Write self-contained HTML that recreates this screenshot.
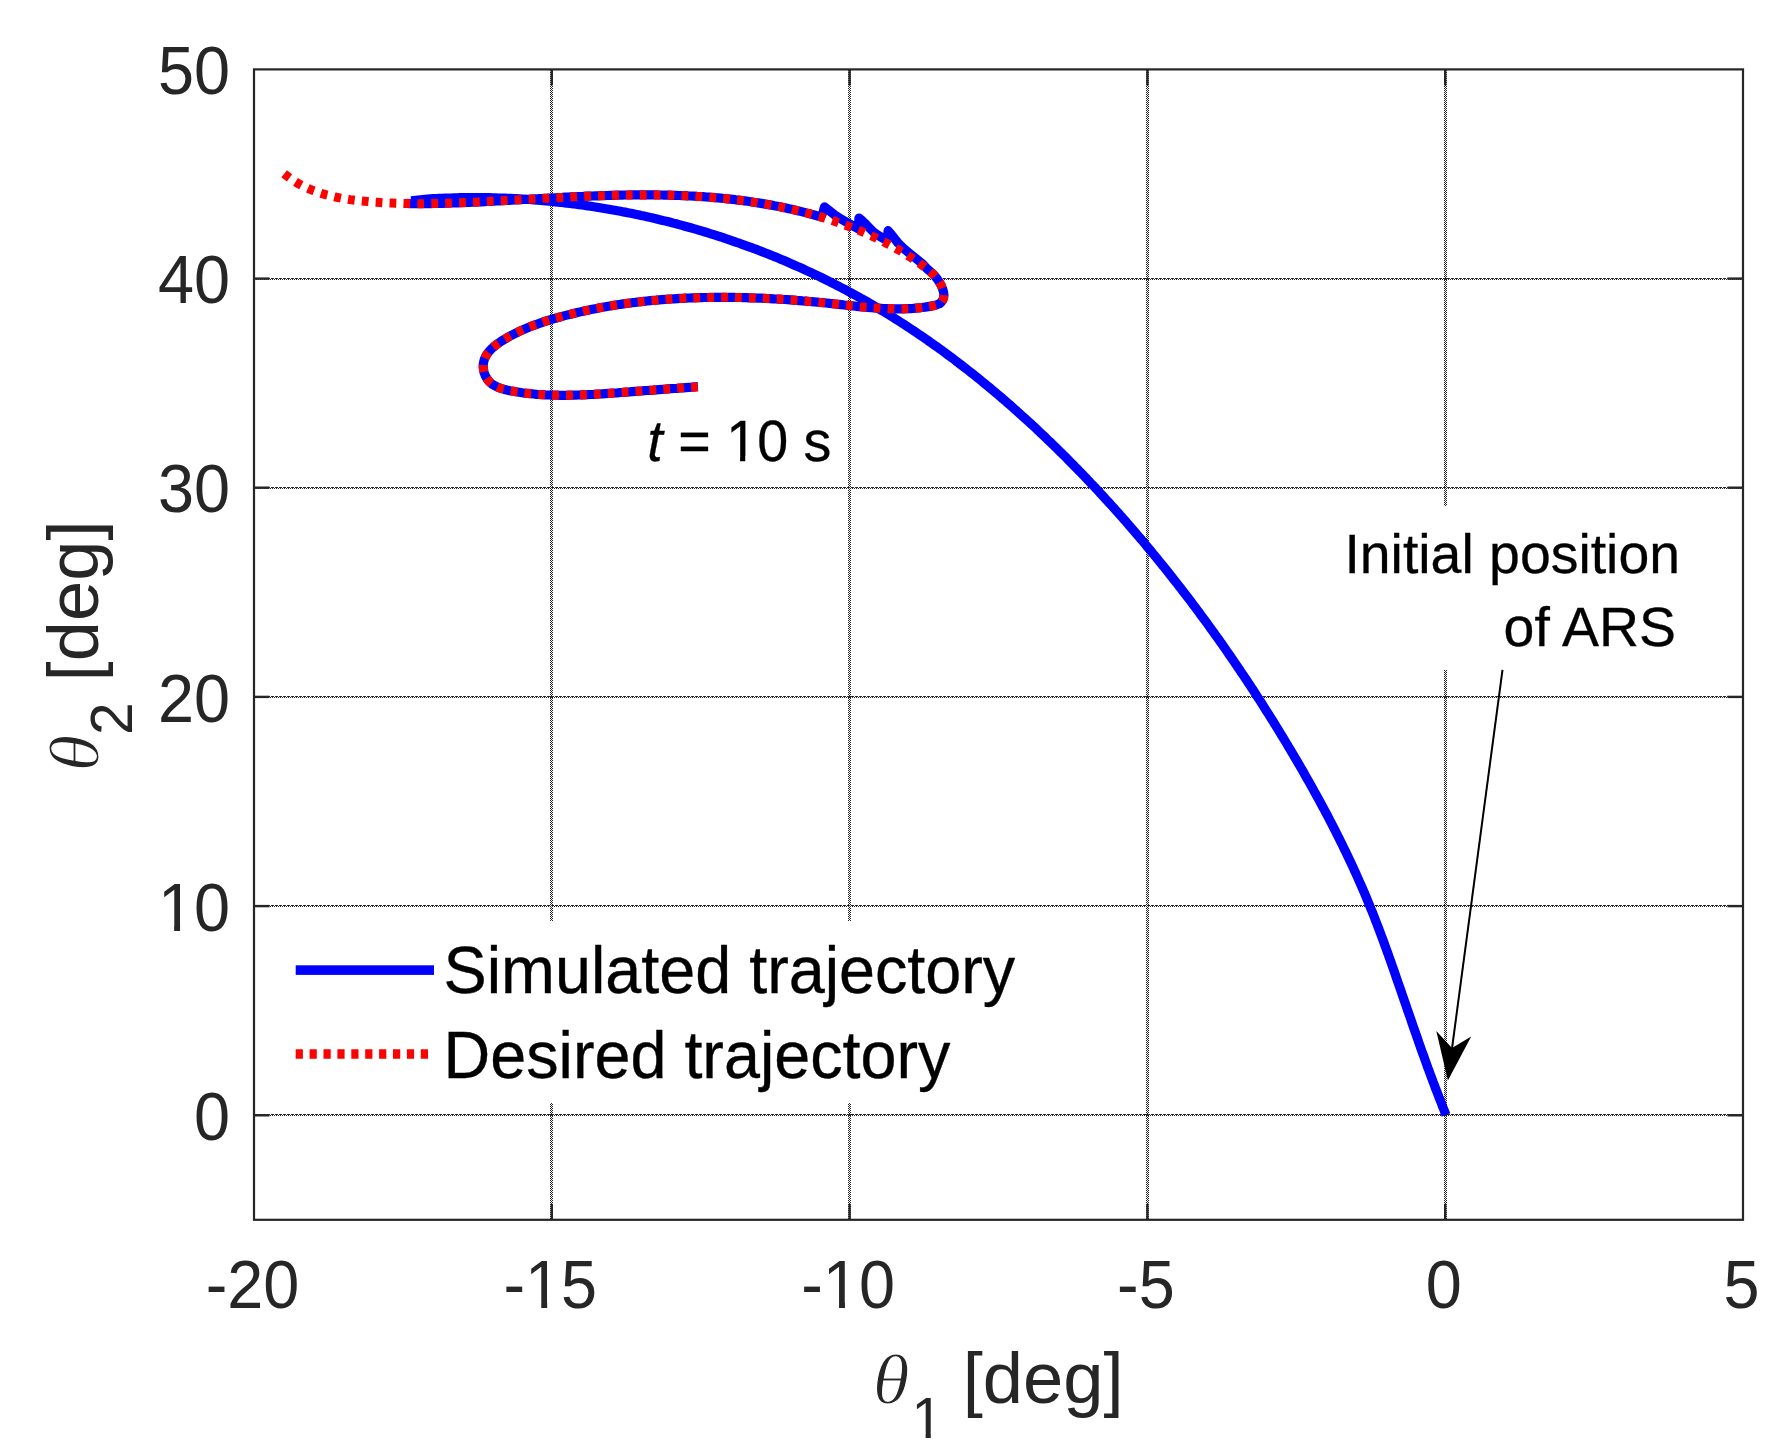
<!DOCTYPE html>
<html lang="en"><head><meta charset="utf-8"><title>Simulated and desired trajectory</title>
<style>
html,body{margin:0;padding:0;background:#fff;}
body{width:1788px;height:1456px;overflow:hidden;}
svg{display:block;}
text{font-family:"Liberation Sans",Arial,Helvetica,sans-serif;}
.tk{font-size:64.8px;fill:#262626;}
.lb{font-size:71.5px;fill:#262626;}
.sub{font-size:56.5px;fill:#262626;}
.th{font-family:"Liberation Serif","Times New Roman",serif;font-style:italic;font-size:70.4px;fill:#262626;stroke:#fff;stroke-width:1.1px;}
.lg{font-size:64.7px;fill:#000;stroke:#000;stroke-width:0.35px;}
.an{font-size:55.4px;fill:#000;stroke:#000;stroke-width:0.3px;}
.it{font-style:italic;}
</style></head><body>
<svg width="1788" height="1456" viewBox="0 0 1788 1456">
<defs><clipPath id="c0"><path clip-rule="evenodd" d="M-3000,-3000H3000V3000H-3000Z M-22.09,-5.74H-9.06V2.00H-22.09Z M-3.14,-5.74H9.55V2.00H-3.14Z"/></clipPath><clipPath id="c1"><path clip-rule="evenodd" d="M-3000,-3000H3000V3000H-3000Z M-22.09,-5.74H-9.06V2.00H-22.09Z M-3.14,-5.74H9.55V2.00H-3.14Z"/></clipPath><clipPath id="c2"><path clip-rule="evenodd" d="M-3000,-3000H3000V3000H-3000Z M-68.90,-5.74H-55.87V2.00H-68.90Z M-49.95,-5.74H-37.26V2.00H-49.95Z"/></clipPath><clipPath id="c3"><path clip-rule="evenodd" d="M-3000,-3000H3000V3000H-3000Z M2.76,-5.12H14.11V2.00H2.76Z M19.30,-5.12H30.35V2.00H19.30Z"/></clipPath><clipPath id="c4"><path clip-rule="evenodd" d="M-3000,-3000H3000V3000H-3000Z M81.22,-5.04H92.34V2.00H81.22Z M97.44,-5.04H108.27V2.00H97.44Z"/></clipPath></defs>
<rect width="1788" height="1456" fill="#fff"/>

<g stroke="#262626" stroke-width="1" shape-rendering="crispEdges" fill="none">
<line x1="550.5" y1="70" x2="550.5" y2="921" stroke-dasharray="1 1" stroke-dashoffset="0"/>
<line x1="551.5" y1="70" x2="551.5" y2="921" stroke-dasharray="1 1" stroke-dashoffset="1"/>
<line x1="552.5" y1="70" x2="552.5" y2="921" stroke-dasharray="1 1" stroke-dashoffset="0"/>
<line x1="550.5" y1="1103" x2="550.5" y2="1219" stroke-dasharray="1 1" stroke-dashoffset="1"/>
<line x1="551.5" y1="1103" x2="551.5" y2="1219" stroke-dasharray="1 1" stroke-dashoffset="0"/>
<line x1="552.5" y1="1103" x2="552.5" y2="1219" stroke-dasharray="1 1" stroke-dashoffset="1"/>
<line x1="848.5" y1="70" x2="848.5" y2="921" stroke-dasharray="1 1" stroke-dashoffset="0"/>
<line x1="849.5" y1="70" x2="849.5" y2="921" stroke-dasharray="1 1" stroke-dashoffset="1"/>
<line x1="850.5" y1="70" x2="850.5" y2="921" stroke-dasharray="1 1" stroke-dashoffset="0"/>
<line x1="848.5" y1="1103" x2="848.5" y2="1219" stroke-dasharray="1 1" stroke-dashoffset="1"/>
<line x1="849.5" y1="1103" x2="849.5" y2="1219" stroke-dasharray="1 1" stroke-dashoffset="0"/>
<line x1="850.5" y1="1103" x2="850.5" y2="1219" stroke-dasharray="1 1" stroke-dashoffset="1"/>
<line x1="1146.5" y1="70" x2="1146.5" y2="1219" stroke-dasharray="1 1" stroke-dashoffset="0"/>
<line x1="1147.5" y1="70" x2="1147.5" y2="1219" stroke-dasharray="1 1" stroke-dashoffset="1"/>
<line x1="1148.5" y1="70" x2="1148.5" y2="1219" stroke-dasharray="1 1" stroke-dashoffset="0"/>
<line x1="1444.5" y1="70" x2="1444.5" y2="506" stroke-dasharray="1 1" stroke-dashoffset="0"/>
<line x1="1445.5" y1="70" x2="1445.5" y2="506" stroke-dasharray="1 1" stroke-dashoffset="1"/>
<line x1="1446.5" y1="70" x2="1446.5" y2="506" stroke-dasharray="1 1" stroke-dashoffset="0"/>
<line x1="1444.5" y1="670" x2="1444.5" y2="1219" stroke-dasharray="1 1" stroke-dashoffset="0"/>
<line x1="1445.5" y1="670" x2="1445.5" y2="1219" stroke-dasharray="1 1" stroke-dashoffset="1"/>
<line x1="1446.5" y1="670" x2="1446.5" y2="1219" stroke-dasharray="1 1" stroke-dashoffset="0"/>
<line x1="255" y1="1114.5" x2="1742" y2="1114.5" stroke-dasharray="3 1"/>
<line x1="255" y1="1115.5" x2="1742" y2="1115.5" stroke-dasharray="1 1" stroke-dashoffset="1"/>
<line x1="255" y1="905.5" x2="1742" y2="905.5" stroke-dasharray="3 1"/>
<line x1="255" y1="906.5" x2="1742" y2="906.5" stroke-dasharray="1 1" stroke-dashoffset="1"/>
<line x1="255" y1="696.5" x2="1742" y2="696.5" stroke-dasharray="3 1"/>
<line x1="255" y1="697.5" x2="1742" y2="697.5" stroke-dasharray="1 1" stroke-dashoffset="1"/>
<line x1="255" y1="487.5" x2="1742" y2="487.5" stroke-dasharray="3 1"/>
<line x1="255" y1="488.5" x2="1742" y2="488.5" stroke-dasharray="1 1" stroke-dashoffset="1"/>
<line x1="255" y1="278.5" x2="1742" y2="278.5" stroke-dasharray="3 1"/>
<line x1="255" y1="279.5" x2="1742" y2="279.5" stroke-dasharray="1 1" stroke-dashoffset="1"/>
</g>
<g stroke="#262626" stroke-width="2.4">
<line x1="551.8" y1="1219.85" x2="551.8" y2="1203.8"/><line x1="551.8" y1="69.4" x2="551.8" y2="85.4"/>
<line x1="849.6" y1="1219.85" x2="849.6" y2="1203.8"/><line x1="849.6" y1="69.4" x2="849.6" y2="85.4"/>
<line x1="1147.4" y1="1219.85" x2="1147.4" y2="1203.8"/><line x1="1147.4" y1="69.4" x2="1147.4" y2="85.4"/>
<line x1="1445.2" y1="1219.85" x2="1445.2" y2="1203.8"/><line x1="1445.2" y1="69.4" x2="1445.2" y2="85.4"/>
<line x1="254.0" y1="1115.3" x2="269.5" y2="1115.3"/><line x1="1743.0" y1="1115.3" x2="1727.5" y2="1115.3"/>
<line x1="254.0" y1="906.1" x2="269.5" y2="906.1"/><line x1="1743.0" y1="906.1" x2="1727.5" y2="906.1"/>
<line x1="254.0" y1="696.9" x2="269.5" y2="696.9"/><line x1="1743.0" y1="696.9" x2="1727.5" y2="696.9"/>
<line x1="254.0" y1="487.7" x2="269.5" y2="487.7"/><line x1="1743.0" y1="487.7" x2="1727.5" y2="487.7"/>
<line x1="254.0" y1="278.6" x2="269.5" y2="278.6"/><line x1="1743.0" y1="278.6" x2="1727.5" y2="278.6"/>
</g>
<path d="M1446.0,1115.0 L1444.9,1112.2 L1443.8,1109.4 L1442.7,1106.7 L1441.6,1103.9 L1440.5,1101.1 L1439.4,1098.3 L1438.3,1095.6 L1437.3,1092.8 L1436.2,1090.0 L1435.1,1087.2 L1434.1,1084.4 L1433.0,1081.6 L1432.0,1078.8 L1430.9,1076.0 L1429.9,1073.2 L1428.9,1070.4 L1427.8,1067.6 L1426.8,1064.8 L1425.8,1062.0 L1424.8,1059.2 L1423.8,1056.3 L1422.7,1053.5 L1421.7,1050.7 L1420.7,1047.9 L1419.7,1045.0 L1418.7,1042.2 L1417.8,1039.4 L1416.8,1036.6 L1415.8,1033.7 L1414.8,1030.9 L1413.8,1028.1 L1412.8,1025.2 L1411.8,1022.4 L1410.9,1019.6 L1409.9,1016.7 L1408.9,1013.9 L1407.9,1011.1 L1406.9,1008.2 L1406.0,1005.4 L1405.0,1002.6 L1404.0,999.7 L1403.0,996.9 L1402.0,994.0 L1401.1,991.2 L1400.1,988.4 L1399.1,985.5 L1398.1,982.7 L1397.1,979.9 L1396.1,977.0 L1395.2,974.2 L1394.2,971.4 L1393.2,968.5 L1392.2,965.7 L1391.2,962.9 L1390.2,960.0 L1389.2,957.2 L1388.2,954.4 L1387.2,951.6 L1386.1,948.7 L1385.1,945.9 L1384.1,943.1 L1383.1,940.3 L1382.0,937.5 L1381.0,934.7 L1379.9,931.9 L1378.9,929.0 L1377.8,926.2 L1376.7,923.4 L1375.6,920.7 L1374.6,917.9 L1373.5,915.1 L1372.4,912.3 L1371.2,909.5 L1370.1,906.7 L1369.0,904.0 L1367.9,901.2 L1366.7,898.4 L1365.6,895.7 L1364.4,892.9 L1363.2,890.2 L1362.0,887.4 L1360.8,884.7 L1359.6,882.0 L1358.4,879.2 L1357.2,876.5 L1356.0,873.8 L1354.7,871.1 L1353.5,868.3 L1352.2,865.6 L1351.0,862.9 L1349.7,860.2 L1348.4,857.5 L1347.1,854.8 L1345.8,852.1 L1344.5,849.4 L1343.2,846.8 L1341.9,844.1 L1340.6,841.4 L1339.3,838.7 L1337.9,836.1 L1336.6,833.4 L1335.2,830.7 L1333.9,828.1 L1332.5,825.4 L1331.1,822.7 L1329.7,820.1 L1328.4,817.4 L1327.0,814.8 L1325.6,812.2 L1324.2,809.5 L1322.7,806.9 L1321.3,804.3 L1319.9,801.6 L1318.5,799.0 L1317.0,796.4 L1315.6,793.8 L1314.1,791.2 L1312.7,788.5 L1311.2,785.9 L1309.8,783.3 L1308.3,780.7 L1306.8,778.1 L1305.3,775.5 L1303.9,772.9 L1302.4,770.3 L1300.9,767.7 L1299.4,765.2 L1297.9,762.6 L1296.4,760.0 L1294.8,757.4 L1293.3,754.8 L1291.8,752.2 L1290.3,749.7 L1288.7,747.1 L1287.2,744.5 L1285.7,742.0 L1284.1,739.4 L1282.6,736.9 L1281.0,734.3 L1279.4,731.7 L1277.9,729.2 L1276.3,726.6 L1274.7,724.1 L1273.2,721.5 L1271.6,719.0 L1270.0,716.5 L1268.4,713.9 L1266.8,711.4 L1265.2,708.9 L1263.6,706.3 L1262.0,703.8 L1260.4,701.3 L1258.8,698.8 L1257.1,696.3 L1255.5,693.7 L1253.9,691.2 L1252.2,688.7 L1250.6,686.2 L1248.9,683.7 L1247.3,681.2 L1245.6,678.7 L1244.0,676.2 L1242.3,673.8 L1240.6,671.3 L1239.0,668.8 L1237.3,666.3 L1235.6,663.8 L1233.9,661.4 L1232.2,658.9 L1230.5,656.4 L1228.8,654.0 L1227.1,651.5 L1225.4,649.0 L1223.7,646.6 L1222.0,644.1 L1220.2,641.7 L1218.5,639.2 L1216.8,636.8 L1215.0,634.4 L1213.3,631.9 L1211.5,629.5 L1209.8,627.1 L1208.0,624.6 L1206.3,622.2 L1204.5,619.8 L1202.7,617.4 L1200.9,615.0 L1199.2,612.6 L1197.4,610.2 L1195.6,607.8 L1193.8,605.4 L1192.0,603.0 L1190.2,600.6 L1188.4,598.2 L1186.5,595.8 L1184.7,593.4 L1182.9,591.1 L1181.1,588.7 L1179.2,586.3 L1177.4,584.0 L1175.5,581.6 L1173.7,579.3 L1171.8,576.9 L1170.0,574.6 L1168.1,572.2 L1166.3,569.9 L1164.4,567.5 L1162.5,565.2 L1160.6,562.9 L1158.7,560.6 L1156.8,558.2 L1154.9,555.9 L1153.0,553.6 L1151.1,551.3 L1149.2,549.0 L1147.3,546.7 L1145.4,544.4 L1143.5,542.1 L1141.5,539.8 L1139.6,537.5 L1137.6,535.2 L1135.7,533.0 L1133.8,530.7 L1131.8,528.4 L1129.8,526.2 L1127.9,523.9 L1125.9,521.6 L1123.9,519.4 L1121.9,517.1 L1120.0,514.9 L1118.0,512.7 L1116.0,510.4 L1114.0,508.2 L1112.0,506.0 L1110.0,503.7 L1107.9,501.5 L1105.9,499.3 L1103.9,497.1 L1101.9,494.9 L1099.8,492.7 L1097.8,490.5 L1095.8,488.3 L1093.7,486.1 L1091.6,484.0 L1089.6,481.8 L1087.5,479.6 L1085.5,477.4 L1083.4,475.3 L1081.3,473.1 L1079.2,471.0 L1077.1,468.8 L1075.0,466.7 L1072.9,464.5 L1070.8,462.4 L1068.7,460.3 L1066.6,458.1 L1064.5,456.0 L1062.4,453.9 L1060.2,451.8 L1058.1,449.7 L1056.0,447.6 L1053.8,445.5 L1051.7,443.4 L1049.5,441.3 L1047.3,439.3 L1045.2,437.2 L1043.0,435.1 L1040.8,433.1 L1038.6,431.0 L1036.5,428.9 L1034.3,426.9 L1032.1,424.9 L1029.9,422.8 L1027.7,420.8 L1025.4,418.8 L1023.2,416.8 L1021.0,414.8 L1018.8,412.8 L1016.5,410.8 L1014.3,408.8 L1012.1,406.8 L1009.8,404.8 L1007.6,402.9 L1005.3,400.9 L1003.0,399.0 L1000.8,397.0 L998.5,395.1 L996.2,393.1 L993.9,391.2 L991.6,389.3 L989.3,387.4 L987.0,385.5 L984.7,383.6 L982.4,381.7 L980.1,379.8 L977.7,377.9 L975.4,376.0 L973.1,374.2 L970.7,372.3 L968.4,370.5 L966.0,368.6 L963.7,366.8 L961.3,365.0 L958.9,363.2 L956.5,361.3 L954.2,359.5 L951.8,357.7 L949.4,356.0 L947.0,354.2 L944.6,352.4 L942.2,350.6 L939.8,348.9 L937.3,347.1 L934.9,345.4 L932.5,343.7 L930.0,342.0 L927.6,340.2 L925.1,338.5 L922.7,336.8 L920.2,335.2 L917.7,333.5 L915.3,331.8 L912.8,330.2 L910.3,328.5 L907.8,326.9 L905.3,325.2 L902.8,323.6 L900.3,322.0 L897.8,320.4 L895.3,318.8 L892.7,317.2 L890.2,315.6 L887.7,314.0 L885.1,312.5 L882.6,310.9 L880.0,309.4 L877.5,307.9 L874.9,306.3 L872.3,304.8 L869.7,303.3 L867.2,301.8 L864.6,300.3 L862.0,298.9 L859.4,297.4 L856.8,296.0 L854.1,294.5 L851.5,293.1 L848.9,291.7 L846.3,290.2 L843.6,288.8 L841.0,287.5 L838.3,286.1 L835.7,284.7 L833.0,283.3 L830.3,282.0 L827.6,280.6 L825.0,279.3 L822.3,278.0 L819.6,276.7 L816.9,275.4 L814.2,274.1 L811.5,272.8 L808.8,271.6 L806.0,270.3 L803.3,269.0 L800.6,267.8 L797.9,266.6 L795.1,265.4 L792.4,264.2 L789.6,263.0 L786.9,261.8 L784.1,260.6 L781.3,259.4 L778.6,258.3 L775.8,257.1 L773.0,256.0 L770.2,254.9 L767.5,253.8 L764.7,252.7 L761.9,251.6 L759.1,250.5 L756.3,249.4 L753.4,248.4 L750.6,247.3 L747.8,246.3 L745.0,245.3 L742.2,244.3 L739.3,243.2 L736.5,242.3 L733.7,241.3 L730.8,240.3 L728.0,239.3 L725.1,238.4 L722.3,237.4 L719.4,236.5 L716.6,235.6 L713.7,234.7 L710.8,233.8 L708.0,232.9 L705.1,232.0 L702.2,231.1 L699.3,230.3 L696.4,229.4 L693.6,228.6 L690.7,227.8 L687.8,227.0 L684.9,226.2 L682.0,225.4 L679.1,224.6 L676.2,223.8 L673.3,223.1 L670.4,222.3 L667.4,221.6 L664.5,220.9 L661.6,220.2 L658.7,219.5 L655.8,218.8 L652.8,218.1 L649.9,217.4 L647.0,216.7 L644.0,216.1 L641.1,215.5 L638.2,214.8 L635.2,214.2 L632.3,213.6 L629.3,213.0 L626.4,212.4 L623.5,211.9 L620.5,211.3 L617.6,210.8 L614.6,210.2 L611.6,209.7 L608.7,209.2 L605.7,208.7 L602.8,208.2 L599.8,207.7 L596.9,207.2 L593.9,206.8 L590.9,206.3 L588.0,205.9 L585.0,205.4 L582.0,205.0 L579.1,204.6 L576.1,204.2 L573.1,203.8 L570.1,203.5 L567.2,203.1 L564.2,202.8 L561.2,202.4 L558.2,202.1 L555.3,201.8 L552.3,201.5 L549.3,201.2 L546.3,200.9 L543.4,200.6 L540.4,200.4 L537.4,200.1 L534.4,199.9 L531.4,199.7 L528.5,199.5 L525.5,199.3 L522.5,199.1 L519.5,198.9 L516.5,198.7 L513.6,198.6 L510.6,198.4 L507.6,198.3 L504.6,198.2 L501.6,198.1 L498.7,198.0 L495.7,197.9 L492.7,197.8 L489.7,197.7 L486.7,197.7 L483.8,197.7 L480.8,197.6 L477.8,197.6 L474.8,197.6 L471.9,197.6 L468.9,197.6 L465.9,197.7 L462.9,197.7 L460.0,197.7 L457.0,197.8 L454.0,197.9 L451.1,198.0 L448.1,198.1 L445.1,198.2 L442.2,198.3 L439.2,198.4 L436.3,198.6 L433.3,198.7 L430.3,198.9 L427.4,199.1 L418.0,200.0 L411.2,200.9" fill="none" stroke="#0000ff" stroke-width="9.2" stroke-linejoin="round" stroke-linecap="butt"/>
<path d="M407.0,203.4 L409.9,203.6 L412.9,203.6 L415.9,203.7 L418.9,203.7 L421.9,203.7 L424.9,203.6 L427.9,203.6 L430.9,203.6 L433.9,203.5 L436.9,203.5 L439.9,203.4 L442.9,203.3 L445.9,203.2 L448.8,203.1 L451.8,203.0 L454.8,202.9 L457.8,202.8 L460.8,202.7 L463.8,202.6 L466.8,202.5 L469.8,202.3 L472.8,202.2 L475.7,202.1 L478.7,201.9 L481.7,201.8 L484.7,201.6 L487.7,201.5 L490.7,201.3 L493.7,201.2 L496.7,201.0 L499.6,200.8 L502.6,200.7 L505.6,200.5 L508.6,200.3 L511.6,200.2 L514.6,200.0 L517.6,199.8 L520.5,199.7 L523.5,199.5 L526.5,199.3 L529.5,199.2 L532.5,199.0 L535.5,198.8 L538.5,198.7 L541.4,198.5 L544.4,198.3 L547.4,198.2 L550.4,198.0 L553.4,197.8 L556.4,197.7 L559.4,197.5 L562.4,197.4 L565.3,197.2 L568.3,197.1 L571.3,196.9 L574.3,196.8 L577.3,196.6 L580.3,196.5 L583.3,196.4 L586.3,196.2 L589.3,196.1 L592.2,196.0 L595.2,195.9 L598.2,195.8 L601.2,195.7 L604.2,195.6 L607.2,195.5 L610.2,195.4 L613.2,195.3 L616.2,195.2 L619.2,195.2 L622.2,195.1 L625.2,195.0 L628.2,195.0 L631.1,194.9 L634.1,194.9 L637.1,194.9 L640.1,194.9 L643.1,194.9 L646.1,194.9 L649.1,194.9 L652.1,194.9 L655.1,194.9 L658.1,195.0 L661.1,195.0 L664.1,195.1 L667.1,195.1 L670.1,195.2 L673.1,195.3 L676.1,195.4 L679.1,195.5 L682.1,195.6 L685.1,195.7 L688.1,195.9 L691.1,196.0 L694.1,196.2 L697.1,196.4 L700.1,196.5 L703.1,196.7 L706.1,197.0 L709.1,197.2 L712.1,197.4 L715.1,197.7 L718.0,197.9 L721.0,198.2 L724.0,198.5 L727.0,198.8 L730.0,199.1 L732.9,199.4 L735.9,199.8 L738.9,200.1 L741.8,200.5 L744.8,200.9 L747.8,201.3 L750.7,201.7 L753.7,202.2 L756.6,202.6 L759.6,203.1 L762.5,203.6 L765.5,204.1 L768.4,204.6 L771.4,205.1 L774.3,205.7 L777.2,206.2 L780.2,206.8 L783.1,207.4 L786.0,208.0 L788.9,208.7 L791.8,209.3 L794.7,210.0 L797.6,210.7 L800.5,211.4 L803.4,212.1 L806.3,212.9 L809.2,213.6 L812.1,214.4 L815.0,215.2 L817.8,216.1 L820.7,216.9 L823.2,212.0 L824.5,206.9 L828.0,209.6 L834.9,215.1 L841.5,219.3 L848.0,223.0 L853.0,226.0 L857.6,228.4 L858.5,224.0 L859.0,218.0 L862.0,220.6 L866.0,224.4 L873.8,232.4 L878.0,235.3 L882.2,237.8 L886.6,240.4 L887.7,236.0 L888.1,230.7 L891.0,234.0 L898.3,243.3 L904.0,248.8 L910.0,253.7 L916.0,258.5 L921.8,263.2 L926.5,268.2 L930.1,271.4 L932.3,273.4 L934.4,275.6 L936.4,277.9 L938.2,280.4 L939.9,283.0 L941.4,285.9 L942.6,288.9 L943.5,292.0 L943.9,294.9 L943.6,297.7 L942.7,300.2 L941.3,302.2 L939.3,303.8 L936.7,304.8 L933.9,305.6 L931.0,306.1 L928.0,306.6 L925.1,307.1 L922.1,307.5 L919.2,307.8 L916.2,308.1 L913.2,308.4 L910.3,308.6 L907.3,308.7 L904.3,308.8 L901.3,308.9 L898.3,308.9 L895.3,308.9 L892.3,308.8 L889.4,308.8 L886.4,308.6 L883.4,308.5 L880.4,308.3 L877.4,308.1 L874.4,307.9 L871.4,307.7 L868.3,307.4 L865.3,307.2 L862.3,306.9 L859.3,306.6 L856.3,306.3 L853.3,305.9 L850.3,305.6 L847.3,305.3 L844.3,305.0 L841.3,304.6 L838.3,304.3 L835.3,304.0 L832.4,303.7 L829.4,303.4 L826.4,303.0 L823.4,302.7 L820.4,302.5 L817.4,302.2 L814.4,301.9 L811.5,301.6 L808.5,301.4 L805.5,301.1 L802.5,300.9 L799.6,300.6 L796.6,300.4 L793.6,300.1 L790.6,299.9 L787.7,299.7 L784.7,299.5 L781.7,299.3 L778.8,299.1 L775.8,299.0 L772.8,298.8 L769.8,298.6 L766.9,298.5 L763.9,298.3 L760.9,298.2 L757.9,298.1 L755.0,298.0 L752.0,297.9 L749.0,297.8 L746.0,297.7 L743.0,297.6 L740.1,297.5 L737.1,297.5 L734.1,297.4 L731.1,297.4 L728.1,297.4 L725.1,297.3 L722.1,297.3 L719.1,297.3 L716.1,297.4 L713.1,297.4 L710.1,297.4 L707.1,297.5 L704.1,297.5 L701.1,297.6 L698.1,297.7 L695.1,297.8 L692.1,297.9 L689.1,298.0 L686.1,298.1 L683.1,298.3 L680.1,298.4 L677.1,298.6 L674.1,298.8 L671.1,299.0 L668.1,299.2 L665.1,299.4 L662.1,299.6 L659.1,299.9 L656.1,300.2 L653.1,300.4 L650.1,300.7 L647.1,301.0 L644.1,301.3 L641.1,301.7 L638.2,302.0 L635.2,302.4 L632.2,302.7 L629.2,303.1 L626.3,303.5 L623.3,303.9 L620.3,304.4 L617.4,304.8 L614.4,305.3 L611.5,305.8 L608.5,306.3 L605.6,306.8 L602.6,307.3 L599.7,307.8 L596.8,308.4 L593.9,309.0 L590.9,309.6 L588.0,310.2 L585.1,310.8 L582.2,311.4 L579.3,312.1 L576.4,312.8 L573.5,313.5 L570.7,314.2 L567.8,314.9 L564.9,315.6 L562.1,316.4 L559.2,317.2 L556.4,318.0 L553.5,318.8 L550.7,319.6 L547.8,320.5 L545.0,321.4 L542.2,322.3 L539.4,323.3 L536.6,324.3 L533.8,325.3 L531.0,326.4 L528.2,327.5 L525.4,328.7 L522.6,329.9 L519.8,331.2 L517.1,332.5 L514.3,333.9 L511.5,335.3 L508.8,336.8 L506.0,338.4 L503.3,340.0 L500.6,341.7 L498.0,343.5 L495.5,345.4 L493.1,347.4 L490.9,349.4 L489.0,351.6 L487.2,353.8 L485.8,356.2 L484.6,358.7 L483.8,361.3 L483.3,364.0 L483.2,366.8 L483.5,369.7 L484.1,372.5 L485.1,375.3 L486.5,377.9 L488.1,380.3 L490.1,382.5 L492.4,384.3 L495.0,385.9 L497.7,387.2 L500.6,388.3 L503.7,389.2 L506.8,390.0 L509.9,390.7 L513.1,391.2 L516.1,391.8 L519.1,392.2 L522.1,392.7 L525.0,393.1 L527.9,393.4 L530.8,393.7 L533.8,394.0 L536.7,394.3 L539.6,394.5 L542.6,394.7 L545.5,394.9 L548.5,395.0 L551.5,395.1 L554.4,395.2 L557.4,395.2 L560.4,395.3 L563.4,395.3 L566.4,395.3 L569.3,395.2 L572.3,395.2 L575.3,395.1 L578.3,395.0 L581.3,394.9 L584.3,394.8 L587.3,394.7 L590.3,394.5 L593.4,394.4 L596.4,394.2 L599.4,394.0 L602.4,393.8 L605.4,393.6 L608.4,393.4 L611.4,393.2 L614.4,393.0 L617.4,392.8 L620.4,392.5 L623.4,392.3 L626.3,392.1 L629.3,391.9 L632.3,391.6 L635.3,391.4 L638.3,391.2 L641.2,391.0 L644.2,390.7 L647.2,390.5 L650.2,390.3 L653.1,390.1 L656.1,389.8 L659.1,389.6 L662.0,389.4 L665.0,389.2 L668.0,388.9 L671.0,388.7 L674.0,388.5 L676.9,388.3 L679.9,388.0 L682.9,387.8 L685.9,387.6 L688.9,387.4 L691.9,387.2 L694.9,386.9 L697.9,386.7" fill="none" stroke="#0000ff" stroke-width="9.2" stroke-linejoin="round" stroke-linecap="butt"/>
<path d="M284.2,173.8 L286.6,175.7 L289.0,177.5 L291.5,179.3 L294.0,180.9 L296.5,182.5 L299.1,184.0 L301.7,185.4 L304.4,186.7 L307.1,188.0 L309.8,189.2 L312.5,190.3 L315.3,191.3 L318.1,192.3 L320.9,193.2 L323.7,194.1 L326.6,194.9 L329.5,195.6 L332.4,196.3 L335.3,197.0 L338.2,197.6 L341.2,198.2 L344.1,198.7 L347.1,199.1 L350.1,199.6 L353.0,200.0 L356.0,200.4 L359.0,200.7 L362.0,201.0 L365.0,201.3 L368.0,201.6 L371.0,201.9 L374.0,202.1 L377.0,202.3 L380.0,202.5 L383.0,202.7 L386.0,202.9 L389.0,203.0 L392.0,203.1 L395.0,203.3 L398.0,203.4 L401.0,203.4 L404.0,203.5 L407.0,203.6 L409.9,203.6 L412.9,203.6 L415.9,203.7 L418.9,203.7 L421.9,203.7 L424.9,203.6 L427.9,203.6 L430.9,203.6 L433.9,203.5 L436.9,203.5 L439.9,203.4 L442.9,203.3 L445.9,203.2 L448.8,203.1 L451.8,203.0 L454.8,202.9 L457.8,202.8 L460.8,202.7 L463.8,202.6 L466.8,202.5 L469.8,202.3 L472.8,202.2 L475.7,202.1 L478.7,201.9 L481.7,201.8 L484.7,201.6 L487.7,201.5 L490.7,201.3 L493.7,201.2 L496.7,201.0 L499.6,200.8 L502.6,200.7 L505.6,200.5 L508.6,200.3 L511.6,200.2 L514.6,200.0 L517.6,199.8 L520.5,199.7 L523.5,199.5 L526.5,199.3 L529.5,199.2 L532.5,199.0 L535.5,198.8 L538.5,198.7 L541.4,198.5 L544.4,198.3 L547.4,198.2 L550.4,198.0 L553.4,197.8 L556.4,197.7 L559.4,197.5 L562.4,197.4 L565.3,197.2 L568.3,197.1 L571.3,196.9 L574.3,196.8 L577.3,196.6 L580.3,196.5 L583.3,196.4 L586.3,196.2 L589.3,196.1 L592.2,196.0 L595.2,195.9 L598.2,195.8 L601.2,195.7 L604.2,195.6 L607.2,195.5 L610.2,195.4 L613.2,195.3 L616.2,195.2 L619.2,195.2 L622.2,195.1 L625.2,195.0 L628.2,195.0 L631.1,194.9 L634.1,194.9 L637.1,194.9 L640.1,194.9 L643.1,194.9 L646.1,194.9 L649.1,194.9 L652.1,194.9 L655.1,194.9 L658.1,195.0 L661.1,195.0 L664.1,195.1 L667.1,195.1 L670.1,195.2 L673.1,195.3 L676.1,195.4 L679.1,195.5 L682.1,195.6 L685.1,195.7 L688.1,195.9 L691.1,196.0 L694.1,196.2 L697.1,196.4 L700.1,196.5 L703.1,196.7 L706.1,197.0 L709.1,197.2 L712.1,197.4 L715.1,197.7 L718.0,197.9 L721.0,198.2 L724.0,198.5 L727.0,198.8 L730.0,199.1 L732.9,199.4 L735.9,199.8 L738.9,200.1 L741.8,200.5 L744.8,200.9 L747.8,201.3 L750.7,201.7 L753.7,202.2 L756.6,202.6 L759.6,203.1 L762.5,203.6 L765.5,204.1 L768.4,204.6 L771.4,205.1 L774.3,205.7 L777.2,206.2 L780.2,206.8 L783.1,207.4 L786.0,208.0 L788.9,208.7 L791.8,209.3 L794.7,210.0 L797.6,210.7 L800.5,211.4 L803.4,212.1 L806.3,212.9 L809.2,213.6 L812.1,214.4 L815.0,215.2 L817.8,216.1 L820.7,216.9 L823.6,217.8 L826.4,218.6 L829.3,219.6 L832.1,220.5 L834.9,221.4 L837.8,222.4 L840.6,223.4 L843.4,224.4 L846.2,225.4 L849.0,226.5 L851.8,227.6 L854.6,228.7 L857.4,229.8 L860.2,230.9 L863.0,232.1 L865.7,233.3 L868.5,234.5 L871.2,235.7 L873.9,237.0 L876.6,238.3 L879.3,239.6 L882.0,240.9 L884.7,242.3 L887.3,243.7 L890.0,245.1 L892.6,246.5 L895.2,248.0 L897.9,249.5 L900.4,251.0 L903.0,252.5 L905.6,254.1 L908.1,255.7 L910.6,257.3 L913.2,259.0 L915.6,260.6 L918.1,262.3 L920.6,264.1 L923.0,265.8 L925.4,267.6 L927.8,269.5 L930.1,271.4 L932.3,273.4 L934.4,275.6 L936.4,277.9 L938.2,280.4 L939.9,283.0 L941.4,285.9 L942.6,288.9 L943.5,292.0 L943.9,294.9 L943.6,297.7 L942.7,300.2 L941.3,302.2 L939.3,303.8 L936.7,304.8 L933.9,305.6 L931.0,306.1 L928.0,306.6 L925.1,307.1 L922.1,307.5 L919.2,307.8 L916.2,308.1 L913.2,308.4 L910.3,308.6 L907.3,308.7 L904.3,308.8 L901.3,308.9 L898.3,308.9 L895.3,308.9 L892.3,308.8 L889.4,308.8 L886.4,308.6 L883.4,308.5 L880.4,308.3 L877.4,308.1 L874.4,307.9 L871.4,307.7 L868.3,307.4 L865.3,307.2 L862.3,306.9 L859.3,306.6 L856.3,306.3 L853.3,305.9 L850.3,305.6 L847.3,305.3 L844.3,305.0 L841.3,304.6 L838.3,304.3 L835.3,304.0 L832.4,303.7 L829.4,303.4 L826.4,303.0 L823.4,302.7 L820.4,302.5 L817.4,302.2 L814.4,301.9 L811.5,301.6 L808.5,301.4 L805.5,301.1 L802.5,300.9 L799.6,300.6 L796.6,300.4 L793.6,300.1 L790.6,299.9 L787.7,299.7 L784.7,299.5 L781.7,299.3 L778.8,299.1 L775.8,299.0 L772.8,298.8 L769.8,298.6 L766.9,298.5 L763.9,298.3 L760.9,298.2 L757.9,298.1 L755.0,298.0 L752.0,297.9 L749.0,297.8 L746.0,297.7 L743.0,297.6 L740.1,297.5 L737.1,297.5 L734.1,297.4 L731.1,297.4 L728.1,297.4 L725.1,297.3 L722.1,297.3 L719.1,297.3 L716.1,297.4 L713.1,297.4 L710.1,297.4 L707.1,297.5 L704.1,297.5 L701.1,297.6 L698.1,297.7 L695.1,297.8 L692.1,297.9 L689.1,298.0 L686.1,298.1 L683.1,298.3 L680.1,298.4 L677.1,298.6 L674.1,298.8 L671.1,299.0 L668.1,299.2 L665.1,299.4 L662.1,299.6 L659.1,299.9 L656.1,300.2 L653.1,300.4 L650.1,300.7 L647.1,301.0 L644.1,301.3 L641.1,301.7 L638.2,302.0 L635.2,302.4 L632.2,302.7 L629.2,303.1 L626.3,303.5 L623.3,303.9 L620.3,304.4 L617.4,304.8 L614.4,305.3 L611.5,305.8 L608.5,306.3 L605.6,306.8 L602.6,307.3 L599.7,307.8 L596.8,308.4 L593.9,309.0 L590.9,309.6 L588.0,310.2 L585.1,310.8 L582.2,311.4 L579.3,312.1 L576.4,312.8 L573.5,313.5 L570.7,314.2 L567.8,314.9 L564.9,315.6 L562.1,316.4 L559.2,317.2 L556.4,318.0 L553.5,318.8 L550.7,319.6 L547.8,320.5 L545.0,321.4 L542.2,322.3 L539.4,323.3 L536.6,324.3 L533.8,325.3 L531.0,326.4 L528.2,327.5 L525.4,328.7 L522.6,329.9 L519.8,331.2 L517.1,332.5 L514.3,333.9 L511.5,335.3 L508.8,336.8 L506.0,338.4 L503.3,340.0 L500.6,341.7 L498.0,343.5 L495.5,345.4 L493.1,347.4 L490.9,349.4 L489.0,351.6 L487.2,353.8 L485.8,356.2 L484.6,358.7 L483.8,361.3 L483.3,364.0 L483.2,366.8 L483.5,369.7 L484.1,372.5 L485.1,375.3 L486.5,377.9 L488.1,380.3 L490.1,382.5 L492.4,384.3 L495.0,385.9 L497.7,387.2 L500.6,388.3 L503.7,389.2 L506.8,390.0 L509.9,390.7 L513.1,391.2 L516.1,391.8 L519.1,392.2 L522.1,392.7 L525.0,393.1 L527.9,393.4 L530.8,393.7 L533.8,394.0 L536.7,394.3 L539.6,394.5 L542.6,394.7 L545.5,394.9 L548.5,395.0 L551.5,395.1 L554.4,395.2 L557.4,395.2 L560.4,395.3 L563.4,395.3 L566.4,395.3 L569.3,395.2 L572.3,395.2 L575.3,395.1 L578.3,395.0 L581.3,394.9 L584.3,394.8 L587.3,394.7 L590.3,394.5 L593.4,394.4 L596.4,394.2 L599.4,394.0 L602.4,393.8 L605.4,393.6 L608.4,393.4 L611.4,393.2 L614.4,393.0 L617.4,392.8 L620.4,392.5 L623.4,392.3 L626.3,392.1 L629.3,391.9 L632.3,391.6 L635.3,391.4 L638.3,391.2 L641.2,391.0 L644.2,390.7 L647.2,390.5 L650.2,390.3 L653.1,390.1 L656.1,389.8 L659.1,389.6 L662.0,389.4 L665.0,389.2 L668.0,388.9 L671.0,388.7 L674.0,388.5 L676.9,388.3 L679.9,388.0 L682.9,387.8 L685.9,387.6 L688.9,387.4 L691.9,387.2 L694.9,386.9 L697.9,386.7" fill="none" stroke="#ff0000" stroke-width="9" stroke-dasharray="6.75 7.167" stroke-linejoin="round"/>
<rect x="254.0" y="69.4" width="1489.0" height="1150.4" fill="none" stroke="#262626" stroke-width="2.2"/>
<text class="tk" transform="translate(252.5,1308.0) scale(1,1.047)" text-anchor="middle">-20</text>
<text clip-path="url(#c0)" class="tk" transform="translate(550.3,1308.0) scale(1,1.047)" text-anchor="middle">-15</text>
<text clip-path="url(#c1)" class="tk" transform="translate(848.1,1308.0) scale(1,1.047)" text-anchor="middle">-10</text>
<text class="tk" transform="translate(1145.9,1308.0) scale(1,1.047)" text-anchor="middle">-5</text>
<text class="tk" transform="translate(1443.7,1308.0) scale(1,1.047)" text-anchor="middle">0</text>
<text class="tk" transform="translate(1741.5,1308.0) scale(1,1.047)" text-anchor="middle">5</text>
<text class="tk" transform="translate(230.0,1139.9) scale(1,1.047)" text-anchor="end">0</text>
<text clip-path="url(#c2)" class="tk" transform="translate(230.0,930.7) scale(1,1.047)" text-anchor="end">10</text>
<text class="tk" transform="translate(230.0,721.5) scale(1,1.047)" text-anchor="end">20</text>
<text class="tk" transform="translate(230.0,512.3) scale(1,1.047)" text-anchor="end">30</text>
<text class="tk" transform="translate(230.0,303.2) scale(1,1.047)" text-anchor="end">40</text>
<text class="tk" transform="translate(230.0,94.0) scale(1,1.047)" text-anchor="end">50</text>
<text class="th" transform="translate(872.8,1403.2) scale(1.065,1)">θ</text>
<text clip-path="url(#c3)" class="sub" transform="translate(911.5,1438.1) scale(1,1.03)">1</text>
<text class="lb" transform="translate(962.7,1402.7) scale(1.012,1)">[deg]</text>
<g transform="translate(97.6,770.6) rotate(-90)"><text class="th" transform="translate(-1.0,0.6) scale(1.065,1)">θ</text><text class="sub" transform="translate(35.5,34.5) scale(1.04,1.04)">2</text><text class="lb" transform="translate(89.2,0.0) scale(1.012,1)">[deg]</text></g>
<rect x="295.7" y="965.3" width="138.3" height="9.6" fill="#0000ff"/>
<line x1="295.7" y1="1054" x2="430" y2="1054" stroke="#ff0000" stroke-width="9.6" stroke-dasharray="7.2 6.7"/>
<text class="lg" transform="translate(443.5,993.2) scale(1,1.02)">Simulated trajectory</text>
<text class="lg" transform="translate(443.5,1077.8) scale(1,1.02)">Desired trajectory</text>
<text clip-path="url(#c4)" class="an" transform="translate(647.3,461.1) scale(1.005,1.03)"><tspan class="it">t</tspan> = 10 s</text>
<text class="an" x="1680.0" y="572.7" text-anchor="end">Initial position</text>
<text class="an" x="1676.0" y="645.6" text-anchor="end">of ARS</text>
<line x1="1502.5" y1="669.8" x2="1452" y2="1048.5" stroke="#000" stroke-width="2"/>
<polygon points="1447.9,1080.5 1436.3,1031.1 1452,1048.1 1471.2,1036.6" fill="#000"/>
</svg></body></html>
